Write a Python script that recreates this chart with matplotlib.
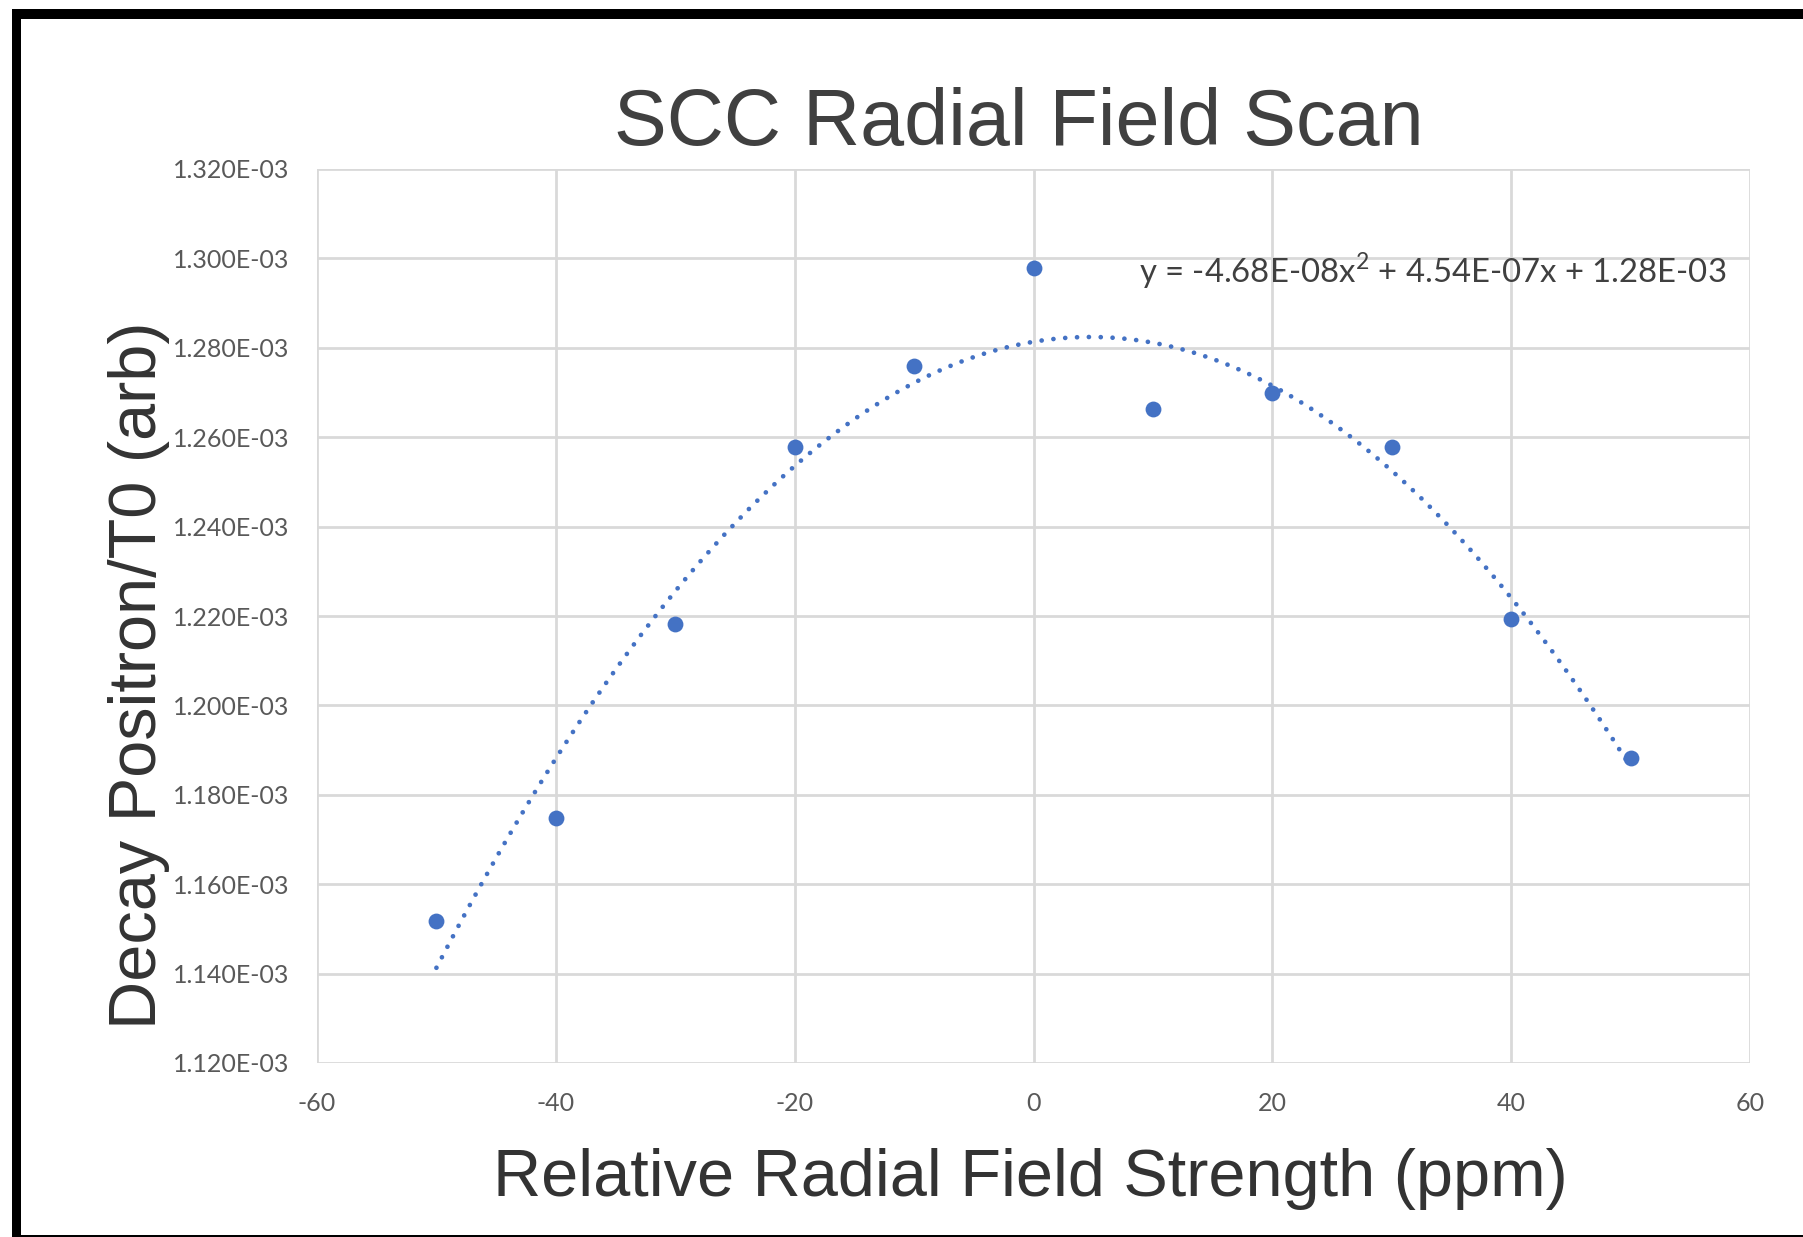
import numpy as np
import matplotlib
matplotlib.use('Agg')
import matplotlib.pyplot as plt
from matplotlib.patches import Rectangle

# data
field_ppm = [-50, -40, -30, -20, -10, 0, 10, 20, 30, 40, 50]
decay_ratio = [1.1517e-3, 1.1748e-3, 1.2181e-3, 1.2577e-3, 1.2760e-3, 1.2979e-3,
               1.2662e-3, 1.2698e-3, 1.2577e-3, 1.2194e-3, 1.1882e-3]
equation = 'y = -4.68E-08x$^2$ + 4.54E-07x + 1.28E-03'
xticks = [-60, -40, -20, 0, 20, 40, 60]
yticks = [1.120e-3, 1.140e-3, 1.160e-3, 1.180e-3, 1.200e-3, 1.220e-3,
          1.240e-3, 1.260e-3, 1.280e-3, 1.300e-3, 1.320e-3]

W, H = 1803, 1237
fig = plt.figure(figsize=(W / 100, H / 100), dpi=100)
plt.rcParams['mathtext.fontset'] = 'custom'
plt.rcParams['mathtext.rm'] = 'Lato'

tickfont = ['Lato', 'DejaVu Sans']
bigfont = ['Liberation Sans', 'DejaVu Sans']

# plot area in pixels
left, right, top, bottom = 317, 1750, 169, 1063
ax = fig.add_axes([left / W, 1 - bottom / H, (right - left) / W, (bottom - top) / H])

blue = '#4472C4'
ax.scatter(field_ppm, decay_ratio, s=130, color=blue, zorder=3, linewidths=0)

# quadratic trendline fitted to the points
fit = np.polyfit(field_ppm, decay_ratio, 2)
xs = np.linspace(field_ppm[0], field_ppm[-1], 200)
ax.plot(xs, np.polyval(fit, xs), color=blue, lw=3.4, linestyle=(0, (0.01, 2.5)),
        dash_capstyle='round', zorder=2)

ax.set_xlim(-60, 60)
ax.set_ylim(1.120e-3, 1.320e-3)
ax.set_xticks(xticks)
ax.set_yticks(yticks)
ax.set_xticklabels([str(t) for t in xticks], fontsize=18, color='#595959', family=tickfont)
ax.set_yticklabels(['%.3fE-03' % (t * 1e3) for t in yticks], fontsize=18,
                   color='#595959', family=tickfont)
ax.tick_params(length=0)
ax.tick_params(axis='x', pad=21)
ax.tick_params(axis='y', pad=20)
for s in ax.spines.values():
    s.set_visible(False)
ax.grid(True, color='#d9d9d9', lw=2)
ax.set_axisbelow(True)

ax.text(1139 / W, 1 - 271 / H, equation, transform=fig.transFigure, fontsize=23.7,
        color='#404040', family=tickfont, va='center', ha='left')

fig.text(1019 / W, 1 - 124 / H, 'SCC Radial Field Scan', fontsize=57,
         color='#404040', family=bigfont, ha='center', va='center')
fig.text(1030 / W, 1 - 1179 / H, 'Relative Radial Field Strength (ppm)', fontsize=48,
         color='#333333', family=bigfont, ha='center', va='center')
fig.text(139 / W, 1 - 675 / H, 'Decay Positron/T0 (arb)', fontsize=48,
         color='#333333', family=bigfont, ha='center', va='center', rotation=90)

# black frame around the screenshot
fig.patches.append(Rectangle((12 / W, 0), 9 / W, 1 - 9 / H, transform=fig.transFigure,
                             color='black', lw=0))
fig.patches.append(Rectangle((12 / W, 1 - 19 / H), 1 - 12 / W, 10 / H,
                             transform=fig.transFigure, color='black', lw=0))
fig.patches.append(Rectangle((12 / W, 0), 1 - 12 / W, 2 / H,
                             transform=fig.transFigure, color='black', lw=0))

fig.savefig('out.png', dpi=100)
